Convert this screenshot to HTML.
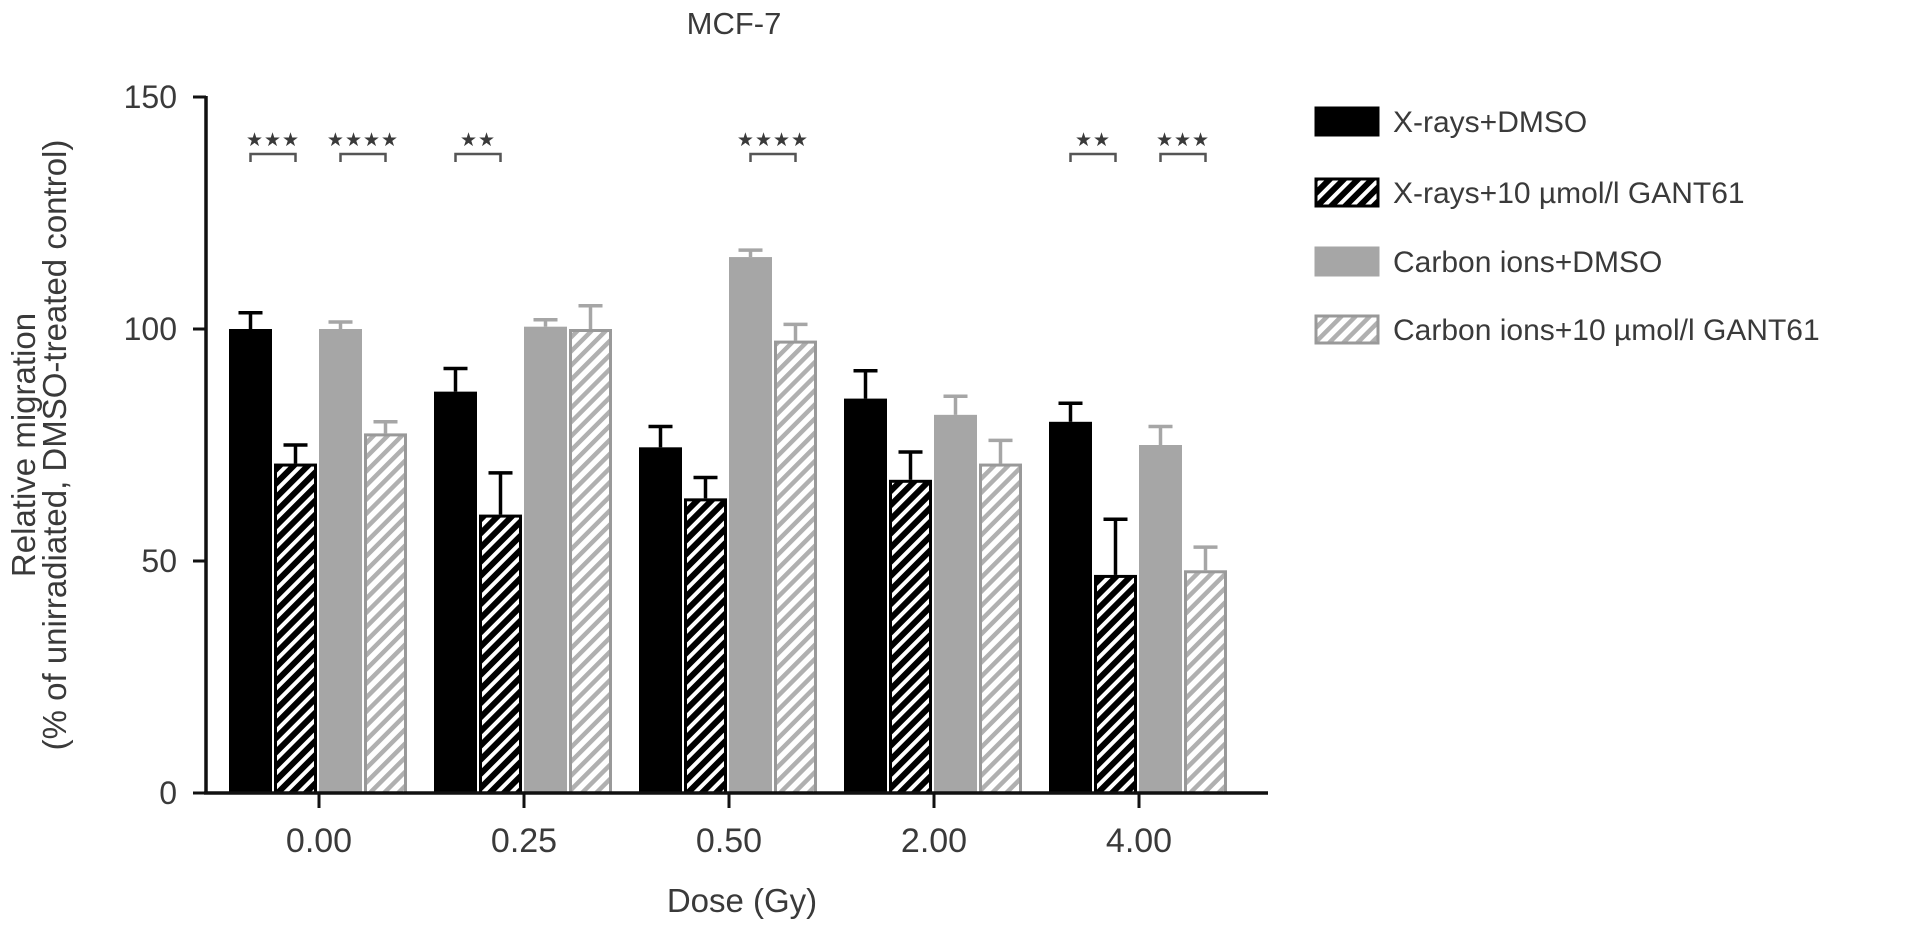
<!DOCTYPE html>
<html><head><meta charset="utf-8"><style>
body{margin:0;background:#fff;}
svg text{font-family:"Liberation Sans",sans-serif;fill:#3a3a3a;}
</style></head><body>
<svg width="1913" height="928" viewBox="0 0 1913 928" xmlns="http://www.w3.org/2000/svg">
<defs>
<pattern id="hatchDark" patternUnits="userSpaceOnUse" width="10" height="10" patternTransform="rotate(45)">
<rect width="10" height="10" fill="#000"/><rect x="0" y="0" width="4" height="10" fill="#fff"/>
</pattern>
<pattern id="hatchLight" patternUnits="userSpaceOnUse" width="10" height="10" patternTransform="rotate(45)">
<rect width="10" height="10" fill="#fff"/><rect x="0" y="0" width="4.5" height="10" fill="#b0b0b0"/>
</pattern>
</defs>
<text x="734" y="34" font-size="31" text-anchor="middle">MCF-7</text>
<g id="plot"></g>
<text x="742" y="912" font-size="33" text-anchor="middle">Dose (Gy)</text>
<text transform="translate(35,445) rotate(-90)" font-size="33" text-anchor="middle">Relative migration</text>
<text transform="translate(66,445) rotate(-90)" font-size="33" text-anchor="middle">(% of unirradiated, DMSO-treated control)</text>
<g id="legend"></g>
</svg>
<script>
const categories=["0.00","0.25","0.50","2.00","4.00"];
const seriesNames=["X-rays+DMSO","X-rays+10 µmol/l GANT61","Carbon ions+DMSO","Carbon ions+10 µmol/l GANT61"];
const xraysDmso=[100,86.5,74.5,85,80];
const xraysGant=[71,60,63.5,67.5,47];
const carbonDmso=[100,100.5,115.5,81.5,75];
const carbonGant=[77.5,100,97.5,71,48];
const xraysDmsoErr=[3.5,5,4.5,6,4];
const xraysGantErr=[4,9,4.5,6,12];
const carbonDmsoErr=[1.5,1.5,1.5,4,4];
const carbonGantErr=[2.5,5,3.5,5,5];
const yTicks=[0,50,100,150];
const sigGroups=[0,0,1,2,4,4];
const sigPairs=[0,1,0,1,0,1];
const sigLabels=["***","****","**","****","**","***"];

const NS="http://www.w3.org/2000/svg";
const plot=document.getElementById('plot');
const y0=793,yScale=4.64;
const yPos=v=>y0-v*yScale;
const xCenter=i=>319+205*i;
const barW=43,pitch=45;
const barLeft=(g,s)=>xCenter(g)-90+s*pitch;
function mk(tag,attrs,parent){const e=document.createElementNS(NS,tag);for(const k in attrs)e.setAttribute(k,attrs[k]);(parent||plot).appendChild(e);return e;}
const fills=["#000","url(#hatchDark)","#a6a6a6","url(#hatchLight)"];
const strokes=["#000","#000","#a6a6a6","#999"];
const errCol=["#000","#000","#a6a6a6","#a6a6a6"];
const vals=[xraysDmso,xraysGant,carbonDmso,carbonGant];
const errs=[xraysDmsoErr,xraysGantErr,carbonDmsoErr,carbonGantErr];
const sKeys=["xrays-dmso","xrays-gant61","carbon-dmso","carbon-gant61"];
categories.forEach((c,g)=>{
  for(let s=0;s<4;s++){
    const v=vals[s][g],e=errs[s][g];
    const xl=barLeft(g,s),cx=xl+barW/2;
    const eb=mk('line',{x1:cx,x2:cx,y1:yPos(v),y2:yPos(v+e),stroke:errCol[s],'stroke-width':3.5});
    
    
    const ec=mk('line',{x1:cx-12,x2:cx+12,y1:yPos(v+e),y2:yPos(v+e),stroke:errCol[s],'stroke-width':3.5});
    
    
    const r=mk('rect',{x:xl+1.5,y:yPos(v)+1.5,width:barW-3,height:v*yScale-1.5,fill:fills[s],stroke:strokes[s],'stroke-width':3});
    
    
  }
  const t=mk('line',{x1:xCenter(g),x2:xCenter(g),y1:y0,y2:y0+15,stroke:'#111','stroke-width':3});
  
  
  const tl=mk('text',{x:xCenter(g),y:852,'font-size':34,'text-anchor':'middle'});
  tl.textContent=c;
  
  
});
const ax=mk('line',{x1:206,x2:206,y1:yPos(150)-1,y2:y0+1.5,stroke:'#111','stroke-width':3.5});


const bx=mk('line',{x1:204,x2:1268,y1:y0,y2:y0,stroke:'#111','stroke-width':3.5});


yTicks.forEach(v=>{
  const t=mk('line',{x1:193,x2:206,y1:yPos(v),y2:yPos(v),stroke:'#111','stroke-width':3});
  
  
  const tl=mk('text',{x:177,y:yPos(v)+11,'font-size':32,'text-anchor':'end'});
  tl.textContent=v;
  
  
});
sigLabels.forEach((lab,i)=>{
  const g=sigGroups[i],p=sigPairs[i];
  const x1=barLeft(g,p*2)+barW/2,x2=barLeft(g,p*2+1)+barW/2;
  const b=mk('path',{d:`M${x1} 162 V154 H${x2} V162`,fill:'none',stroke:'#555','stroke-width':2.5});
  
  
  const t=mk('text',{x:(x1+x2)/2,y:146,'font-size':19,'text-anchor':'middle','letter-spacing':'1'});
  t.textContent=lab.replace(/\*/g,'★');
  
  
});
const leg=document.getElementById('legend');
const legY=[121,192,261,329];
seriesNames.forEach((n,i)=>{
  const g=mk('g',{},leg);
  
  
  mk('rect',{x:1316,y:legY[i]-13,width:62,height:27,fill:fills[i],stroke:strokes[i],'stroke-width':3},g);
  const t=mk('text',{x:1393,y:legY[i]+11,'font-size':30},g);
  t.textContent=n;
});
</script>
</body></html>
